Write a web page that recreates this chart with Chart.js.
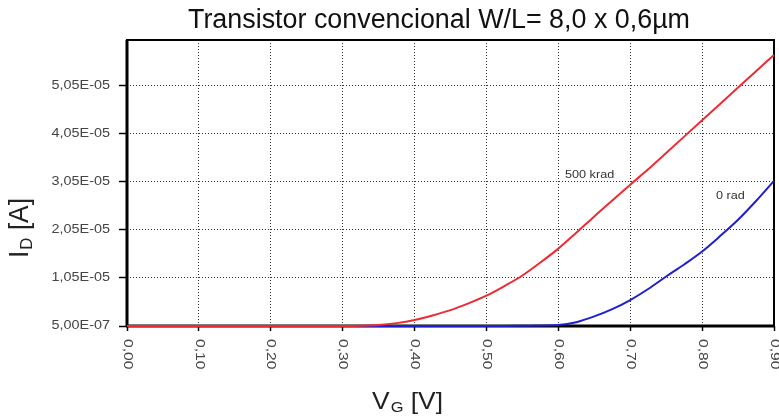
<!DOCTYPE html>
<html><head><meta charset="utf-8">
<script src="https://cdn.jsdelivr.net/npm/chart.js@4"></script>
<style>html,body{margin:0;padding:0;background:#fff}</style>
</head><body>
<canvas id="c" width="779" height="419"></canvas>
<script>
const vg = [0.00,0.025,0.05,0.075,0.10,0.125,0.15,0.175,0.20,0.225,0.25,0.275,0.30,0.325,0.35,0.375,0.40,0.425,0.45,0.475,0.50,0.525,0.55,0.575,0.60,0.625,0.65,0.675,0.70,0.725,0.75,0.775,0.80,0.825,0.85,0.875,0.90];
const id500krad = [5.0e-7,5.0e-7,5.0e-7,5.0e-7,5.0e-7,5.0e-7,5.0e-7,5.0e-7,5.0e-7,5.0e-7,5.0e-7,5.0e-7,5.0e-7,5.5e-7,7.0e-7,1.1e-6,1.75e-6,2.7e-6,3.8e-6,5.2e-6,6.8e-6,8.8e-6,1.1e-5,1.37e-5,1.66e-5,1.99e-5,2.33e-5,2.66e-5,2.99e-5,3.31e-5,3.65e-5,3.99e-5,4.33e-5,4.67e-5,5.01e-5,5.35e-5,5.69e-5];
const id0rad = [5.0e-7,5.0e-7,5.0e-7,5.0e-7,5.0e-7,5.0e-7,5.0e-7,5.0e-7,5.0e-7,5.0e-7,5.0e-7,5.0e-7,5.0e-7,5.0e-7,5.0e-7,5.0e-7,5.0e-7,5.0e-7,5.0e-7,5.0e-7,5.0e-7,5.0e-7,5.5e-7,6.0e-7,7.0e-7,1.3e-6,2.5e-6,4.0e-6,5.9e-6,8.2e-6,1.08e-5,1.33e-5,1.6e-5,1.92e-5,2.26e-5,2.65e-5,3.07e-5];
const xTicks = [0,0.1,0.2,0.3,0.4,0.5,0.6,0.7,0.8,0.9];
const xTickLabels = ['0,00','0,10','0,20','0,30','0,40','0,50','0,60','0,70','0,80','0,90'];
const yTicks = [5e-7,1.05e-5,2.05e-5,3.05e-5,4.05e-5,5.05e-5];
const yTickLabels = ['5,00E-07','1,05E-05','2,05E-05','3,05E-05','4,05E-05','5,05E-05'];
const seriesNames = ['500 krad','0 rad'];
const titleText = 'Transistor convencional W/L= 8,0 x 0,6µm';

const FONT = '"Liberation Sans", Arial, sans-serif';

function stretchText(ctx, text, x, y, px, sx, align, color) {
  ctx.save();
  ctx.font = px + 'px ' + FONT;
  ctx.fillStyle = color;
  ctx.textBaseline = 'middle';
  const w = ctx.measureText(text).width * sx;
  let left = x;
  if (align === 'center') left = x - w / 2;
  else if (align === 'right') left = x - w;
  ctx.translate(left, y);
  ctx.scale(sx, 1);
  ctx.textAlign = 'left';
  ctx.fillText(text, 0, 0);
  ctx.restore();
}

function subTitle(ctx, main, sub, rest, px, subPx, length, color) {
  ctx.font = px + 'px ' + FONT;
  const w1 = ctx.measureText(main).width;
  const w3 = ctx.measureText(rest).width;
  ctx.font = subPx + 'px ' + FONT;
  const w2 = ctx.measureText(sub).width;
  const total = w1 + 1 + w2 + w3;
  const s = length / total;
  ctx.scale(s, 1);
  ctx.fillStyle = color;
  ctx.textBaseline = 'alphabetic';
  ctx.textAlign = 'left';
  ctx.font = px + 'px ' + FONT;
  ctx.fillText(main, 0, 0);
  ctx.font = subPx + 'px ' + FONT;
  ctx.fillText(sub, w1 + 1, px * 0.14);
  ctx.font = px + 'px ' + FONT;
  ctx.fillText(rest, w1 + 1 + w2, 0);
}

const framePlugin = {
  id: 'frame',
  beforeDatasetsDraw(chart) {
    const {ctx, chartArea: a} = chart;
    ctx.save();
    ctx.strokeStyle = '#000';
    ctx.lineWidth = 2;
    ctx.strokeRect(a.left, a.top, a.right - a.left, a.bottom - a.top);
    ctx.lineWidth = 3;
    ctx.beginPath(); ctx.moveTo(a.left - 1, a.bottom); ctx.lineTo(a.right + 1, a.bottom); ctx.stroke();
    ctx.beginPath(); ctx.moveTo(a.left, a.top); ctx.lineTo(a.left, a.bottom); ctx.stroke();
    ctx.restore();
  },
  afterDraw(chart) {
    const {ctx, chartArea: a} = chart;
    const xs = chart.scales.x, ys = chart.scales.y;
    yTicks.forEach((v, i) => {
      stretchText(ctx, yTickLabels[i], a.left - 17, ys.getPixelForValue(v), 12, 1.2, 'right', '#444');
    });
    xTicks.forEach((v, i) => {
      ctx.save();
      ctx.translate(xs.getPixelForValue(v), a.bottom + 13);
      ctx.rotate(Math.PI / 2);
      ctx.scale(1.3, 1);
      ctx.font = '12px ' + FONT;
      ctx.fillStyle = '#444';
      ctx.textAlign = 'left';
      ctx.textBaseline = 'middle';
      ctx.fillText(xTickLabels[i], 0, 0);
      ctx.restore();
    });
    ctx.save();
    ctx.font = '27px ' + FONT;
    const tw = ctx.measureText(titleText).width;
    ctx.translate(188, 28);
    ctx.scale(502 / tw, 1);
    ctx.fillStyle = '#111';
    ctx.textBaseline = 'alphabetic';
    ctx.fillText(titleText, 0, 0);
    ctx.restore();
    ctx.save();
    ctx.translate(372, 409);
    subTitle(ctx, 'V', 'G', ' [V]', 24, 15, 71, '#222');
    ctx.restore();
    ctx.save();
    ctx.translate(28, 258);
    ctx.rotate(-Math.PI / 2);
    subTitle(ctx, 'I', 'D', ' [A]', 27, 17, 60, '#222');
    ctx.restore();
    stretchText(ctx, seriesNames[0], 565, 175, 11, 1.15, 'left', '#333');
    stretchText(ctx, seriesNames[1], 716, 196, 11, 1.15, 'left', '#333');
  }
};

new Chart(document.getElementById('c'), {
  type: 'line',
  data: {
    datasets: [
      { label: seriesNames[0], data: vg.map((v, i) => ({x: v, y: id500krad[i]})), borderColor: '#ec2b33', borderWidth: 2, pointRadius: 0, cubicInterpolationMode: 'monotone', clip: 4 },
      { label: seriesNames[1], data: vg.map((v, i) => ({x: v, y: id0rad[i]})), borderColor: '#1f1fcf', borderWidth: 2, pointRadius: 0, cubicInterpolationMode: 'monotone', clip: 4 }
    ]
  },
  options: {
    responsive: false,
    animation: false,
    devicePixelRatio: 1,
    layout: { padding: { top: 40, right: 5, left: 0, bottom: 0 } },
    plugins: { legend: { display: false }, tooltip: { enabled: false }, title: { display: false } },
    scales: {
      x: {
        type: 'linear', min: 0, max: 0.9,
        afterBuildTicks(s) { s.ticks = xTicks.map(v => ({value: v})); },
        afterFit(s) { s.height = 93; },
        ticks: { display: false },
        grid: { color: '#333', lineWidth: 1, tickLength: 5, tickColor: '#000', tickWidth: 1.5, tickBorderDash: [] },
        border: { display: false, dash: [1, 2] }
      },
      y: {
        type: 'linear', min: 5e-7, max: 6e-5,
        afterBuildTicks(s) { s.ticks = yTicks.map(v => ({value: v})); },
        afterFit(s) { s.width = 127; },
        ticks: { display: false },
        grid: { color: '#333', lineWidth: 1, tickLength: 8, tickColor: '#000', tickWidth: 1.5, tickBorderDash: [] },
        border: { display: false, dash: [1, 2] }
      }
    }
  },
  plugins: [framePlugin]
});
</script>
</body></html>
